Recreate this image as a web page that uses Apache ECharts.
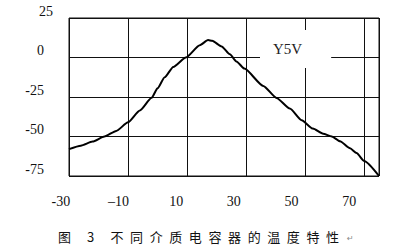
<!DOCTYPE html>
<html>
<head>
<meta charset="utf-8">
<script src="https://cdn.jsdelivr.net/npm/echarts@6/dist/echarts.min.js"></script>
<style>html,body{margin:0;padding:0;background:#fff;}#c{width:400px;height:250px;}</style>
</head>
<body>
<div id="c"></div>
<script>
// Temperature (°C) and capacitance change (%)
const temps  = [-30, -26, -22, -18, -14, -10, -6, -2, 0, 2.4, 5.3, 9.6, 14.3, 17.1, 18.5, 21.7, 24.5, 26.7, 29.4, 35.8, 40.3, 44.8, 48.8, 52.6, 56.1, 59, 61.8, 65.2, 67.4, 70, 75];
const values = [-58, -55.8, -53.2, -50, -46.5, -41, -33.5, -25.5, -19.5, -12.5, -6, 0, 7.8, 11, 10.6, 7, 2, -2.5, -7, -18, -25.6, -32.3, -39.7, -45, -48.3, -50, -53, -57.5, -60.5, -65.5, -75];
const xTickValues = [-30, -10, 10, 30, 50, 70];
const xTickLabels = ["-30", "–10", "10", "30", "50", "70"];
const yTickValues = [-75, -50, -25, 0, 25];
const seriesName = "Y5V";
const caption = "图 3 不同介质电容器的温度特性";
const paraMark = "↵";

const chart = echarts.init(document.getElementById('c'), null, {renderer: 'svg'});
const numFont = 'Liberation Serif';
chart.setOption({
  animation: false,
  backgroundColor: '#fff',
  title: [
    {
      text: seriesName, left: 260, top: 30,
      backgroundColor: '#fff',
      padding: [11, 29, 12, 13],
      textStyle: {fontFamily: numFont, fontSize: 15, fontWeight: 'normal', color: '#222'}
    },
    {
      text: caption, left: 58, top: 230, padding: 0,
      textStyle: {fontFamily: 'Noto Sans CJK SC', fontSize: 13, fontWeight: 'normal', color: '#111'}
    },
    {
      text: paraMark, left: 347, top: 234, padding: 0,
      textStyle: {fontFamily: 'DejaVu Sans', fontSize: 8, fontWeight: 'normal', color: '#888'}
    }
  ],
  grid: [
    {left: 69, right: 21, top: 18, bottom: 74, show: true, borderColor: '#111', borderWidth: 1},
    {left: 60.8, right: 22, top: 18, bottom: 74, show: false}
  ],
  xAxis: [
    {
      type: 'value', gridIndex: 0, min: -30, max: 75, interval: 20,
      axisLine: {show: false}, axisTick: {show: false}, axisLabel: {show: false},
      splitLine: {show: true, lineStyle: {color: '#111', width: 1}}
    },
    {
      type: 'value', gridIndex: 1, min: -30, max: 80, interval: 20,
      axisLine: {show: false}, axisTick: {show: false}, splitLine: {show: false},
      axisLabel: {
        show: true, margin: 18, showMaxLabel: false,
        fontFamily: numFont, fontSize: 14, color: '#111',
        formatter: v => { const i = xTickValues.indexOf(v); return i >= 0 ? xTickLabels[i] : ''; }
      }
    }
  ],
  yAxis: [
    {
      type: 'value', gridIndex: 0, min: yTickValues[0], max: yTickValues[yTickValues.length - 1], interval: 25,
      axisLine: {show: false}, axisTick: {show: false},
      splitLine: {show: true, lineStyle: {color: '#111', width: 1}},
      axisLabel: {
        margin: 16, fontFamily: numFont, fontSize: 14, color: '#111', verticalAlign: 'bottom',
        formatter: v => (v === yTickValues[yTickValues.length - 1] ? '{t|' + v + '}' : '{n|' + v + '}'),
        rich: {
          t: {fontFamily: numFont, fontSize: 14, color: '#111'},
          n: {fontFamily: numFont, fontSize: 14, color: '#111', padding: [0, 9, 0, 0]}
        }
      }
    },
    {type: 'value', gridIndex: 1, show: false, min: 0, max: 1}
  ],
  series: [{
    name: seriesName, type: 'line', xAxisIndex: 0, yAxisIndex: 0,
    data: temps.map((t, i) => [t, values[i]]),
    symbol: 'none', smooth: 0.2, smoothMonotone: 'x',
    lineStyle: {color: '#000', width: 2}
  }]
});
function spaceCaption() {
  document.querySelectorAll('#c svg text').forEach(el => {
    if (el.textContent === caption) el.style.letterSpacing = '6.6px';
  });
}
spaceCaption();
chart.on('finished', spaceCaption);
setTimeout(spaceCaption, 0);
</script>
</body>
</html>
